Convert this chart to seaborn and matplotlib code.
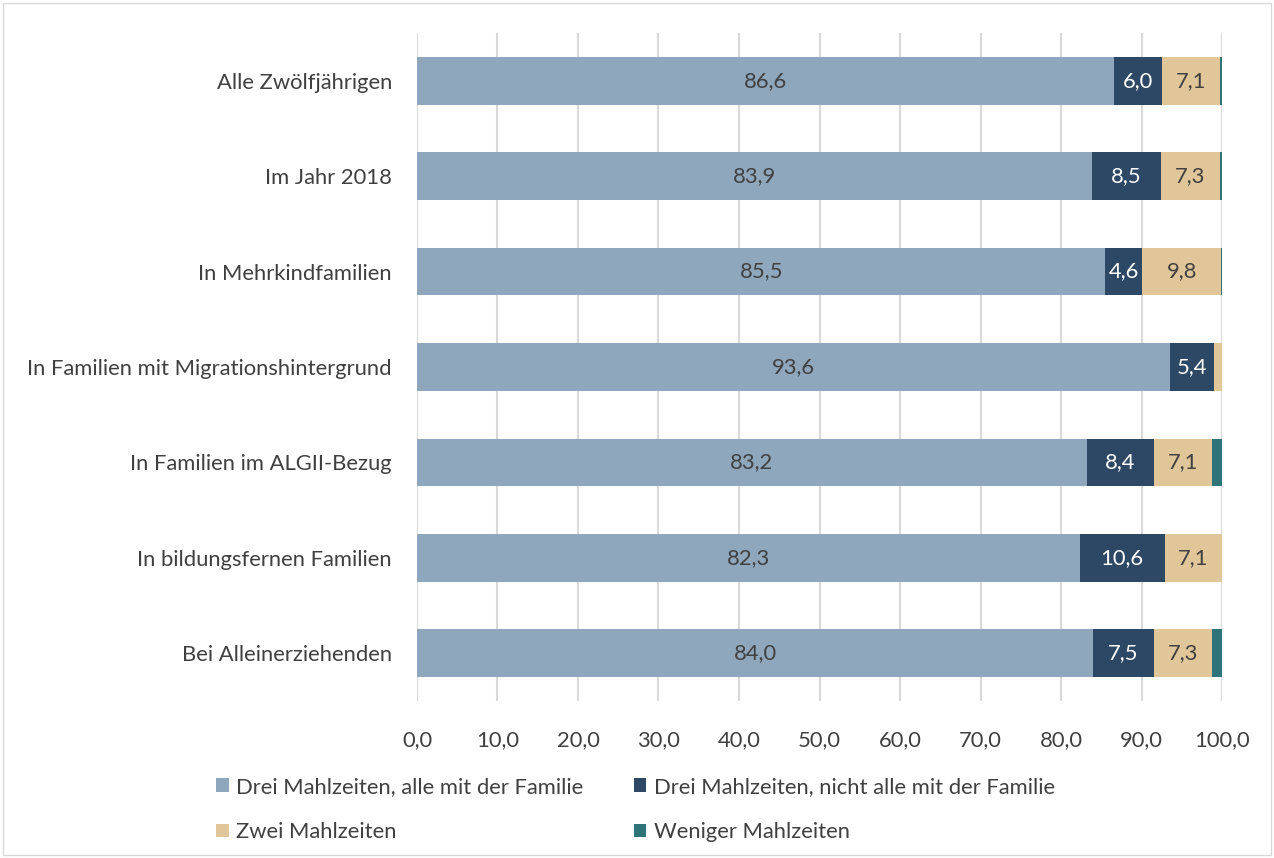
import matplotlib
matplotlib.use("Agg")
import matplotlib.pyplot as plt
import seaborn as sns
import numpy as np
from matplotlib.patches import Rectangle

# data
categories = ["Alle Zwölfjährigen", "Im Jahr 2018", "In Mehrkindfamilien",
              "In Familien mit Migrationshintergrund", "In Familien im ALGII-Bezug",
              "In bildungsfernen Familien", "Bei Alleinerziehenden"]
drei_alle = [86.6, 83.9, 85.5, 93.6, 83.2, 82.3, 84.0]
drei_nicht = [6.0, 8.5, 4.6, 5.4, 8.4, 10.6, 7.5]
zwei = [7.1, 7.3, 9.8, 1.0, 7.1, 7.1, 7.3]
weniger = [0.3, 0.3, 0.1, 0.0, 1.3, 0.0, 1.2]

series_names = ["Drei Mahlzeiten, alle mit der Familie",
                "Drei Mahlzeiten, nicht alle mit der Familie",
                "Zwei Mahlzeiten", "Weniger Mahlzeiten"]
colors = ["#8FA7BC", "#2D4864", "#E1C699", "#2E7479"]
label_colors = ["#404040", "white", "#404040", "white"]
x_ticks = [0, 10, 20, 30, 40, 50, 60, 70, 80, 90, 100]

sns.set_style("white")
plt.rcParams["font.family"] = ["Lato", "DejaVu Sans"]
fs = 15.8

series = np.array([drei_alle, drei_nicht, zwei, weniger])
cum = np.cumsum(series, axis=0)

fig = plt.figure(figsize=(12.74, 8.58), dpi=100)
ax = fig.add_axes([0.3273, 0.183, 0.6319, 0.7785])

# stacked bars: draw the cumulative totals from the back to the front
for i in range(3, -1, -1):
    sns.barplot(x=cum[i], y=categories, orient="h", color=colors[i], width=0.5,
                saturation=1, linewidth=0, label=series_names[i], ax=ax, zorder=3)

# value labels in the middle of each segment
for i in range(4):
    left = cum[i] - series[i]
    for j, v in enumerate(series[i]):
        if v >= 3:
            ax.text(left[j] + v / 2, j, f"{v:.1f}".replace(".", ","),
                    ha="center", va="center", fontsize=fs,
                    color=label_colors[i], zorder=4)

ax.set_xlim(0, 100)
ax.set_ylim(6.5, -0.5)
ax.set_xticks(x_ticks)
ax.set_xticklabels([f"{t:.1f}".replace(".", ",") for t in x_ticks])
ax.xaxis.grid(True, color="#D9D9D9", linewidth=1.5, zorder=0)
ax.set_axisbelow(True)
for s in ax.spines.values():
    s.set_visible(False)
ax.tick_params(axis="both", length=0, labelsize=fs, colors="#404040")
ax.tick_params(axis="x", pad=21)
ax.tick_params(axis="y", pad=18)
ax.set_xlabel("")
ax.set_ylabel("")

handles, labels = ax.get_legend_handles_labels()
ax.legend_.remove()
order = [series_names[0], series_names[2], series_names[1], series_names[3]]
lookup = dict(zip(labels, handles))
fig.legend([lookup[n] for n in order], order, ncol=2, loc="upper left",
           bbox_to_anchor=(0.163, 0.105), frameon=False, fontsize=fs,
           labelcolor="#404040", handlelength=0.55, handleheight=0.55,
           handletextpad=0.35, columnspacing=2.3, labelspacing=1.15,
           borderaxespad=0)

fig.patches.append(Rectangle((0.002, 0.003), 0.996, 0.994, transform=fig.transFigure,
                             fill=False, edgecolor="#D9D9D9", linewidth=1))

fig.savefig("out.png", dpi=100)
